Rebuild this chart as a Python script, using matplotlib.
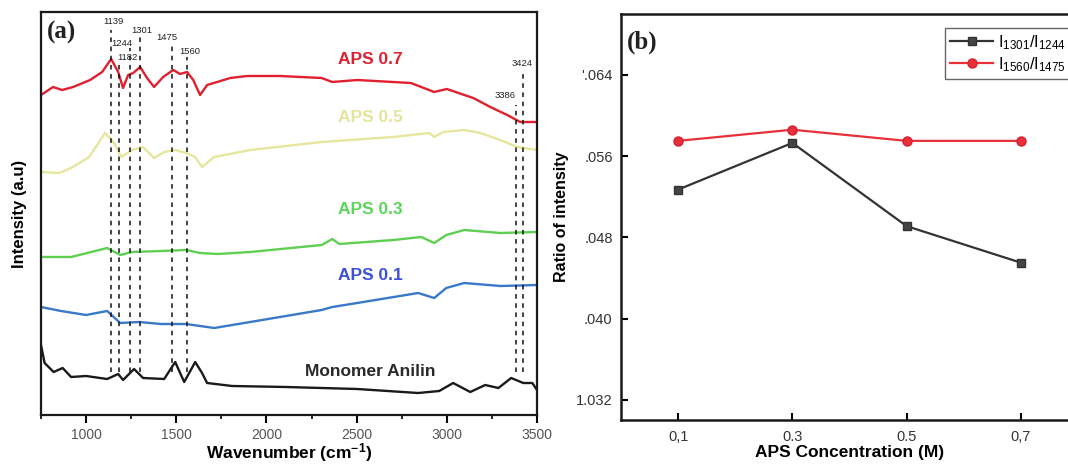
import matplotlib
matplotlib.use('Agg')
import matplotlib.pyplot as plt
from matplotlib.ticker import FixedLocator, FixedFormatter, MultipleLocator

plt.rcParams['font.family'] = ['Liberation Sans', 'DejaVu Sans']
plt.rcParams['mathtext.default'] = 'regular'

# ---------------- data: panel (a) FTIR spectra (offset, arbitrary units) ----------------
wn_red = [750, 817, 867, 928, 1022, 1089, 1139, 1178, 1205, 1233, 1261, 1300, 1338, 1377,
          1427, 1483, 1521, 1560, 1594, 1632, 1671, 1727, 1799, 1893, 2076, 2306, 2365,
          2503, 2801, 2930, 3000, 3097, 3147, 3241, 3335, 3407, 3500]
int_red = [325, 333, 330, 333, 340, 348, 361, 348, 332, 345, 347, 353, 342, 333,
           343, 350, 346, 348, 340, 325, 335, 338, 342, 344, 344, 342, 338,
           340, 337, 328, 331, 325, 322, 313, 305, 298, 298]

wn_yellow = [750, 850, 917, 1017, 1105, 1156, 1195, 1255, 1316, 1377, 1433, 1494, 1555, 1604,
             1643, 1710, 1910, 2306, 2703, 2903, 2930, 2980, 3097, 3186, 3296, 3391, 3500]
int_yellow = [248, 247, 252, 263, 287, 277, 263, 270, 273, 262, 268, 270, 267, 263,
              253, 263, 270, 278, 283, 287, 283, 288, 290, 287, 280, 273, 270]

wn_green = [750, 917, 1117, 1189, 1255, 1416, 1555, 1632, 1732, 1910, 2306, 2365, 2404,
            2703, 2859, 2930, 2997, 3097, 3297, 3500]
int_green = [163, 163, 172, 165, 168, 169, 170, 167, 166, 168, 175, 181, 176,
             180, 183, 177, 185, 190, 187, 188]

wn_blue = [750, 861, 1000, 1117, 1189, 1294, 1416, 1555, 1710, 1910, 2306, 2365, 2503,
           2841, 2930, 2997, 3097, 3297, 3500]
int_blue = [113, 109, 105, 109, 97, 98, 96, 96, 92, 98, 110, 113, 117,
            127, 122, 132, 137, 134, 135]

wn_black = [750, 770, 820, 870, 917, 1000, 1117, 1178, 1205, 1266, 1316, 1433, 1494, 1544,
            1605, 1643, 1671, 1810, 2109, 2503, 2841, 2958, 3035, 3130, 3213, 3286, 3357,
            3424, 3474, 3500]
int_black = [75, 57, 48, 52, 43, 44, 41, 46, 40, 51, 42, 41, 58, 38,
             58, 47, 37, 34, 33, 31, 27, 29, 37, 28, 35, 32, 42,
             37, 37, 30]

series_names = ['APS 0.7', 'APS 0.5', 'APS 0.3', 'APS 0.1', 'Monomer Anilin']

peak_positions = [1139, 1182, 1244, 1301, 1475, 1560, 3386, 3424]
peak_labels = ['1139', '1182', '1244', '1301', '1475', '1560', '3386', '3424']

# ---------------- data: panel (b) intensity ratios ----------------
conc = [0.1, 0.3, 0.5, 0.7]
conc_labels = ['0,1', '0.3', '0.5', '0,7']
ratio_1301_1244 = [1.0527, 1.0573, 1.0491, 1.0455]
ratio_1560_1475 = [1.0575, 1.0586, 1.0575, 1.0575]
ratio_ticks = [1.032, 1.040, 1.048, 1.056, 1.064]
ratio_tick_labels = ['1.032', '.040', '.048', '.056', "'.064"]
legend_labels = ['I$_{1301}$/I$_{1244}$', 'I$_{1560}$/I$_{1475}$']

# ---------------- figure ----------------
W, H = 1068, 465
fig = plt.figure(figsize=(W / 100, H / 100), dpi=100)

def box(l, t, r, b):
    return [l / W, 1 - b / H, (r - l) / W, (b - t) / H]

# ---- panel (a)
ax = fig.add_axes(box(41, 12, 537, 415))
line_colors = ['#e0202e', '#e6e69c', '#5fcf52', '#3a78c8', '#1a1a1a']
label_colors = ['#e02030', '#e4e49a', '#5ad65a', '#3c50d6', '#2a2a2a']
xs = [wn_red, wn_yellow, wn_green, wn_blue, wn_black]
ys = [int_red, int_yellow, int_green, int_blue, int_black]
for x, y, c in zip(xs, ys, line_colors):
    ax.plot(x, y, color=c, lw=1.7, solid_joinstyle='round')

# dashed guide lines (layout)
line_tops = [390, 358, 372, 383, 378, 363, 315, 350]
for p, top in zip(peak_positions, line_tops):
    ax.plot([p, p], [48, top], color='#111111', lw=1.1, ls=(0, (3, 3)))

peak_text_xy = [(1150, 398), (1227, 363), (1200, 377), (1311, 389), (1449, 383),
                (1577, 369), (3324, 324), (3419, 357)]
for lab, (tx, ty) in zip(peak_labels, peak_text_xy):
    ax.text(tx, ty, lab, fontsize=6.8, ha='center', va='center', color='#222222')

label_y = [360, 303, 210, 145, 48]
for name, c, ly in zip(series_names, label_colors, label_y):
    ax.text(2575, ly, name, fontsize=12.5, fontweight='bold', color=c,
            ha='center', va='center')

ax.set_xlim(750, 3500)
ax.set_ylim(5, 408)
ax.set_yticks([])
ax.xaxis.set_major_locator(MultipleLocator(500))
ax.xaxis.set_minor_locator(MultipleLocator(250))
ax.tick_params(axis='x', which='major', direction='out', length=6, width=1.5,
               labelsize=10, labelcolor='#555555', pad=3)
ax.tick_params(axis='x', which='minor', direction='out', length=3, width=1.2)
for s in ax.spines.values():
    s.set_linewidth(1.6)
    s.set_color('#1a1a1a')
ax.set_xlabel('Wavenumber (cm$^{-1}$)', fontsize=12.5, fontweight='bold', labelpad=0)
ax.set_ylabel('Intensity (a.u)', fontsize=12, fontweight='bold', labelpad=10)
ax.text(0.012, 0.95, '(a)', transform=ax.transAxes, fontsize=18, fontweight='bold',
        family='Liberation Serif', ha='left', va='center', color='#222222')

# ---- panel (b)
bx = fig.add_axes(box(621, 14, 1078, 420))
l1, = bx.plot(conc, ratio_1301_1244, color='#333333', lw=1.6, marker='s', ms=6,
              markerfacecolor='#444444', markeredgecolor='#333333')
l2, = bx.plot(conc, ratio_1560_1475, color='#e8303a', lw=1.6, marker='o', ms=6.5,
              markerfacecolor='#e8303a', markeredgecolor='#d82030')
bx.set_xlim(0.0, 0.8)
bx.set_ylim(1.030, 1.070)
bx.xaxis.set_major_locator(FixedLocator(conc))
bx.xaxis.set_major_formatter(FixedFormatter(conc_labels))
bx.yaxis.set_major_locator(FixedLocator(ratio_ticks))
bx.yaxis.set_major_formatter(FixedFormatter(ratio_tick_labels))
bx.tick_params(axis='both', which='major', direction='in', length=5, width=1.5,
               labelsize=10.5, labelcolor='#333333')
bx.tick_params(axis='x', pad=7)
bx.tick_params(axis='y', pad=6)
for s in bx.spines.values():
    s.set_linewidth(1.8)
    s.set_color('#1a1a1a')
bx.set_xlabel('APS Concentration (M)', fontsize=12.5, fontweight='bold', labelpad=1)
bx.set_ylabel('Ratio of intensity', fontsize=11.5, fontweight='bold', labelpad=5)
bx.text(0.012, 0.93, '(b)', transform=bx.transAxes, fontsize=18, fontweight='bold',
        family='Liberation Serif', ha='left', va='center', color='#222222')
leg = bx.legend([l1, l2], legend_labels, loc='upper left',
                bbox_to_anchor=((945 - 621) / 457, (420 - 28) / 406),
                borderaxespad=0, fancybox=False, framealpha=1, edgecolor='#666666',
                fontsize=12, handlelength=2.6, handletextpad=0.3, borderpad=0.3,
                labelspacing=0.2)
leg.get_frame().set_linewidth(1.0)

fig.savefig('out.png', dpi=100)
